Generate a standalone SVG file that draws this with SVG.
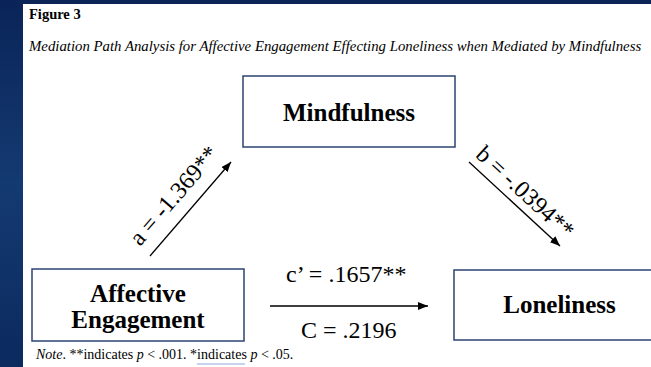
<svg xmlns="http://www.w3.org/2000/svg" width="651" height="367" viewBox="0 0 651 367">
<defs>
<style>
.node rect{fill:#ffffff;stroke:#2b4470;stroke-width:1.5}
.nlabel{font-family:"Liberation Serif","Times New Roman",serif;font-weight:bold;font-size:25px;fill:#000;text-anchor:middle}
.elabel{font-family:"Liberation Serif","Times New Roman",serif;font-size:24px;fill:#000}
.edge{stroke:#000;stroke-width:1.3;fill:none;marker-end:url(#ah)}
.cap{font-family:"Liberation Serif","Times New Roman",serif;fill:#000}
</style>
<marker id="ah" viewBox="0 0 10 8" refX="10" refY="4" markerWidth="10" markerHeight="8" markerUnits="userSpaceOnUse" orient="auto">
<path d="M0,0 L10,4 L0,8 Z" fill="#000"/>
</marker>
<linearGradient id="bg" x1="0" y1="0" x2="0" y2="1">
<stop offset="0" stop-color="#0a2458"/>
<stop offset="0.5" stop-color="#143a72"/>
<stop offset="1" stop-color="#0b2a5e"/>
</linearGradient>
</defs>
<rect x="0" y="0" width="651" height="367" fill="url(#bg)"/>
<rect x="23" y="4" width="628" height="363" fill="#ffffff"/>
<text class="cap" x="29" y="19" font-size="14.5" font-weight="bold">Figure 3</text>
<text class="cap" x="29" y="51" font-size="14.8" font-style="italic">Mediation Path Analysis for Affective Engagement Effecting Loneliness when Mediated by Mindfulness</text>
<g id="mindfulness" class="node">
<rect x="243" y="76" width="212" height="71"/>
<text class="nlabel" x="349" y="121">Mindfulness</text>
</g>
<g id="affective-engagement" class="node">
<rect x="32" y="269" width="212" height="72"/>
<text class="nlabel" x="138" y="302">Affective</text>
<text class="nlabel" x="138" y="328">Engagement</text>
</g>
<g id="loneliness" class="node">
<rect x="454" y="270" width="210" height="70"/>
<text class="nlabel" x="559.5" y="313">Loneliness</text>
</g>
<g id="connectors">
<line class="edge" x1="150" y1="256" x2="231" y2="162"/>
<text class="elabel" transform="translate(140,247) rotate(-49.2)">a = -1.369**</text>
<line class="edge" x1="469" y1="162" x2="560" y2="246"/>
<text class="elabel" transform="translate(474.5,156) rotate(42.7)">b = -.0394**</text>
<line class="edge" x1="270" y1="306" x2="428" y2="306"/>
<text class="elabel" x="286" y="282">c’ = .1657**</text>
<text class="elabel" x="301" y="338">C = .2196</text>
</g>
<text class="cap" x="36" y="359" font-size="14"><tspan font-style="italic">Note</tspan>. **indicates <tspan font-style="italic">p</tspan> &lt; .001. *indicates <tspan font-style="italic">p</tspan> &lt; .05.</text>
<line x1="197" y1="364" x2="245" y2="364" stroke="#8fa8e0" stroke-width="1.2"/>
</svg>
